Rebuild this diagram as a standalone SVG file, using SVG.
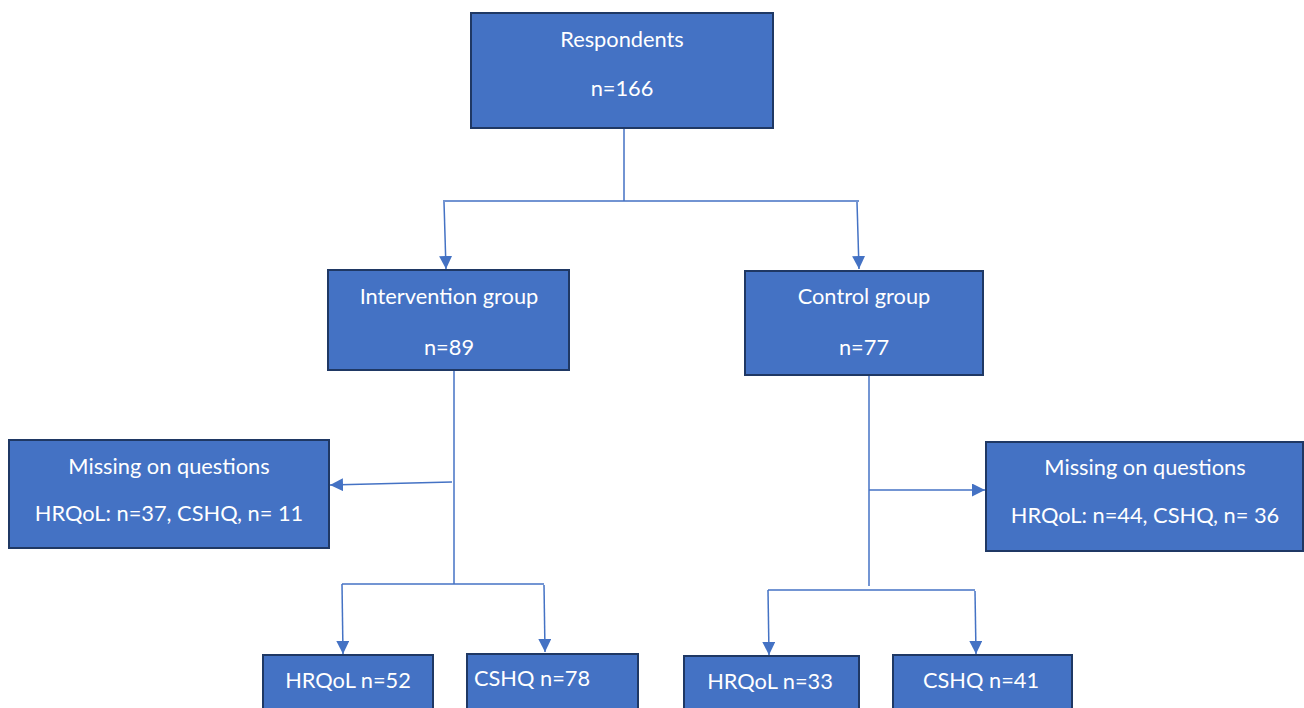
<svg xmlns="http://www.w3.org/2000/svg" width="1304" height="708" viewBox="0 0 1304 708">
<defs>
<style>
.box{fill:#4472C4;stroke:#1F3864;stroke-width:2}
.t{font-family:Lato,"Open Sans",sans-serif;font-size:21.8px;fill:#FFFFFF;text-anchor:middle}
.c{stroke:#4472C4;stroke-width:1.5;fill:none}
</style>
<marker id="ah" markerWidth="13" markerHeight="13" refX="12" refY="6" orient="auto" markerUnits="userSpaceOnUse" viewBox="0 0 12 12">
<path d="M0,0 L12,6 L0,12 z" fill="#4472C4"/>
</marker>
</defs>
<rect width="1304" height="708" fill="#FFFFFF"/>
<g id="connectors">
<path class="c" d="M624,128 V201 M443,201 H859"/>
<path class="c" d="M444,202 L446,269" marker-end="url(#ah)"/>
<path class="c" d="M857,202 L859,269" marker-end="url(#ah)"/>
<path class="c" d="M454,370 V584"/>
<path class="c" d="M452,482 L330,485" marker-end="url(#ah)"/>
<path class="c" d="M342,584 H544"/>
<path class="c" d="M342,584 L343,654" marker-end="url(#ah)"/>
<path class="c" d="M544,585 L545,652" marker-end="url(#ah)"/>
<path class="c" d="M869,376 V586"/>
<path class="c" d="M869,490 L985,490" marker-end="url(#ah)"/>
<path class="c" d="M768,590 H975"/>
<path class="c" d="M768,590 L769,655" marker-end="url(#ah)"/>
<path class="c" d="M975,591 L976,654" marker-end="url(#ah)"/>
</g>
<g id="respondents">
<rect class="box" x="471" y="13" width="302" height="115"/>
<text class="t" x="622" y="47">Respondents</text>
<text class="t" x="622" y="96">n=166</text>
</g>
<g id="intervention">
<rect class="box" x="328" y="270" width="241" height="100"/>
<text class="t" x="449" y="304">Intervention group</text>
<text class="t" x="449" y="355">n=89</text>
</g>
<g id="control">
<rect class="box" x="745" y="271" width="238" height="104"/>
<text class="t" x="864" y="304">Control group</text>
<text class="t" x="864" y="355">n=77</text>
</g>
<g id="missing-left">
<rect class="box" x="9" y="440" width="320" height="108"/>
<text class="t" x="169" y="474">Missing on questions</text>
<text class="t" x="169" y="521">HRQoL: n=37, CSHQ, n= 11</text>
</g>
<g id="missing-right">
<rect class="box" x="986" y="442" width="317" height="109"/>
<text class="t" x="1145" y="475">Missing on questions</text>
<text class="t" x="1145" y="523">HRQoL: n=44, CSHQ, n= 36</text>
</g>
<g id="hrqol-int">
<rect class="box" x="263" y="655" width="170" height="60"/>
<text class="t" x="348" y="688">HRQoL n=52</text>
</g>
<g id="cshq-int">
<rect class="box" x="467" y="654" width="171" height="60"/>
<text class="t" x="532" y="686">CSHQ n=78</text>
</g>
<g id="hrqol-ctrl">
<rect class="box" x="684" y="656" width="175" height="60"/>
<text class="t" x="770" y="689">HRQoL n=33</text>
</g>
<g id="cshq-ctrl">
<rect class="box" x="893" y="655" width="179" height="60"/>
<text class="t" x="981" y="688">CSHQ n=41</text>
</g>
</svg>
